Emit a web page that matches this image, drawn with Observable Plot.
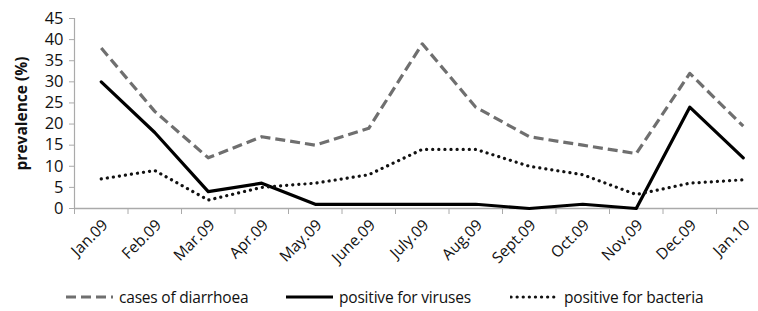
<!DOCTYPE html>
<html><head><meta charset="utf-8">
<script src="https://cdn.jsdelivr.net/npm/d3@7"></script>
<script src="https://cdn.jsdelivr.net/npm/@observablehq/plot@0.6"></script>
<style>
body{margin:0;background:#fff;font-family:"Open Sans",sans-serif;}
#wrap{position:relative;width:758px;height:311px;overflow:hidden;}
#wrap svg{overflow:hidden;}
.leg{position:absolute;top:286px;height:22px;display:flex;align-items:center;font-size:15.5px;color:#111;white-space:nowrap;letter-spacing:-0.2px}
.leg svg{margin-right:4px}
</style></head>
<body><div id="wrap"></div>
<script>
const months = ["Jan.09","Feb.09","Mar.09","Apr.09","May.09","June.09","July.09","Aug.09","Sept.09","Oct.09","Nov.09","Dec.09","Jan.10"];
const diarrhoea = [38,23,12,17,15,19,39,24,17,15,13,32,19.5];
const viruses   = [30,18,4,6,1,1,1,1,0,1,0,24,12];
const bacteria  = [7,9,2,5,6,8,14,14,10,8,3.3,6,6.8];
const yTicks = [0,5,10,15,20,25,30,35,40,45];
const seriesNames = ["cases of diarrhoea","positive for viruses","positive for bacteria"];

const styles = [
  {stroke:"#6f6f6f", strokeWidth:3.2, strokeDasharray:"10 5", strokeLinecap:"butt"},
  {stroke:"#000", strokeWidth:3.2},
  {stroke:"#111", strokeWidth:3.2, strokeDasharray:"0.1 6", strokeLinecap:"round"}
];
const seriesVals = [diarrhoea, viruses, bacteria];
const rows = (vals) => vals.map((v,i)=>({i, v}));

const chart = Plot.plot({
  width: 758, height: 280,
  marginLeft: 74, marginTop: 18, marginBottom: 72, marginRight: 0,
  style: {fontFamily: "Open Sans, sans-serif", fontSize: "16px", color:"#111", overflow:"hidden"},
  x: {type:"linear", domain:[-0.5, 12.5], range:[74, 769.5]},
  y: {domain:[0,45], range:[208,18]},
  marks: [
    Plot.axisY({ticks: yTicks, tickSize: 5, tickPadding: 6, stroke:"#aaa", label:null, fontSize:16.5}),
    Plot.ruleX([-0.5], {stroke:"#aaa", strokeWidth:1.2}),
    Plot.axisX({ticks: d3.range(-0.5, 13, 1), tickSize: 6, stroke:"#aaa", tickFormat: () => "", label:null}),
    Plot.ruleY([0], {stroke:"#aaa", strokeWidth:1.5}),
    Plot.text(months, {x:(d,i)=>i, y: -3.3, text:d=>d, rotate:-45, textAnchor:"end", dx:4, fontSize:15.5, fill:"#111"}),
    Plot.text(["prevalence (%)"], {frameAnchor:"left", textAnchor:"middle", rotate:-90, dx:-52, fontWeight:"bold", fontSize:15.5, fill:"#111"}),
    ...seriesVals.map((vals,k)=>Plot.line(rows(vals), {x:"i", y:"v", ...styles[k]}))
  ]
});
const wrap = document.getElementById("wrap");
wrap.appendChild(chart);

const legLeft = [65, 285, 510];
seriesNames.forEach((name,k)=>{
  const d = document.createElement("div");
  d.className = "leg";
  d.style.left = legLeft[k] + "px";
  const s = styles[k];
  d.innerHTML = `<svg width="50" height="10"><line x1="1" x2="48" y1="5" y2="5" stroke="${s.stroke}" stroke-width="${s.strokeWidth}" ${s.strokeDasharray?`stroke-dasharray="${s.strokeDasharray}"`:""} stroke-linecap="${s.strokeLinecap||"butt"}"/></svg><span>${name}</span>`;
  wrap.appendChild(d);
});
</script></body></html>
